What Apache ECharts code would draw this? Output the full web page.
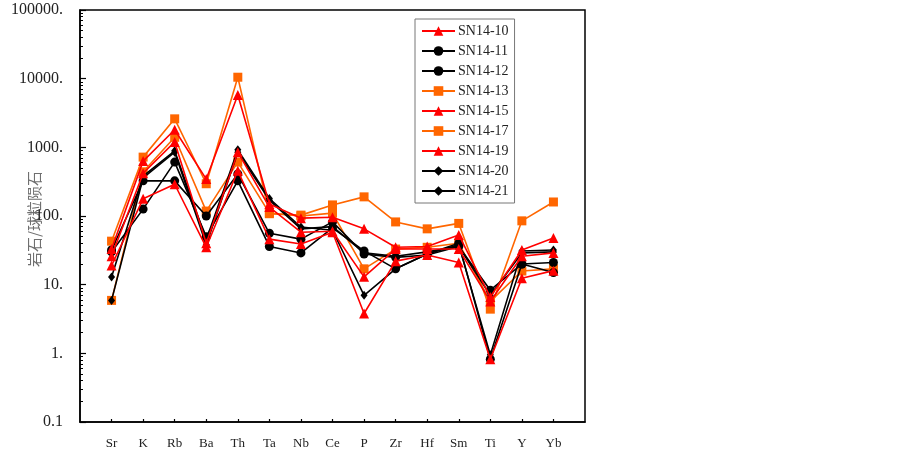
<!DOCTYPE html>
<html><head><meta charset="utf-8">
<script src="https://cdn.jsdelivr.net/npm/echarts@6/dist/echarts.min.js"></script>
<style>html,body{margin:0;padding:0;background:#fff}#c{width:902px;height:451px}</style>
</head><body><div id="c"></div>
<script>
const categories = ['Sr','K','Rb','Ba','Th','Ta','Nb','Ce','P','Zr','Hf','Sm','Ti','Y','Yb'];
const yTickLabels = [0.1, 1, 10, 100, 1000, 10000, 100000];
const yMinorTicks = [0.2,0.3,0.4,0.5,0.6,0.7,0.8,0.9,2,3,4,5,6,7,8,9,20,30,40,50,60,70,80,90,200,300,400,500,600,700,800,900,2000,3000,4000,5000,6000,7000,8000,9000,20000,30000,40000,50000,60000,70000,80000,90000];
const names = ['SN14-10','SN14-11','SN14-12','SN14-13','SN14-15','SN14-17','SN14-19','SN14-20','SN14-21'];
const SN14_10 = [33, 630, 1800, 345, 5800, 150, 93, 96, 65, 35, 36, 53, 6.6, 32, 48];
const SN14_11 = [32, 325, 325, 100, 410, 56, 46, 82, 28, 25, 27, 36, 8.3, 20, 21];
const SN14_12 = [30, 126, 610, 50, 325, 36, 29, 67, 31, 17, 28, 40, 0.82, 20, 15];
const SN14_13 = [43, 720, 2600, 295, 10500, 108, 103, 145, 190, 82, 65, 78, 4.4, 85, 160];
const SN14_15 = [19, 178, 290, 35, 455, 46, 39, 58, 3.8, 22, 27, 21, 0.82, 12.4, 16];
const SN14_17 = [5.9, 440, 1400, 118, 610, 110, 100, 110, 17, 33, 35, 40, 5.7, 15.8, 17];
const SN14_19 = [26, 420, 1200, 40, 850, 135, 58, 60, 13, 33, 33, 33, 5.7, 26, 29];
const SN14_20 = [12.9, 380, 890, 45, 920, 180, 69, 62, 7, 17, 28, 38, 0.95, 31, 32];
const SN14_21 = [5.9, 360, 850, 38, 850, 170, 65, 70, 29, 26, 30, 36, 7, 29, 30];
const values = [SN14_10, SN14_11, SN14_12, SN14_13, SN14_15, SN14_17, SN14_19, SN14_20, SN14_21];

const styleOf = {
  'SN14-10': {c:'#FF0000', s:'triangle', z:10},
  'SN14-15': {c:'#FF0000', s:'triangle', z:10},
  'SN14-19': {c:'#FF0000', s:'triangle', z:10},
  'SN14-13': {c:'#FF6600', s:'rect', z:8},
  'SN14-17': {c:'#FF6600', s:'rect', z:8},
  'SN14-11': {c:'#000000', s:'circle', z:9},
  'SN14-12': {c:'#000000', s:'circle', z:9},
  'SN14-20': {c:'#000000', s:'diamond', z:9},
  'SN14-21': {c:'#000000', s:'diamond', z:9}
};
const sizeOf = {triangle: 10, rect: 9, circle: 9, diamond: 8};

const xPos = categories.map((_, i) => i + 1);
const series = names.map((n, k) => {
  const st = styleOf[n];
  return {
    name: n, type: 'line',
    data: values[k].map((v, i) => [xPos[i], v]),
    symbol: st.s, symbolSize: st.s === 'diamond' ? [7, 9] : sizeOf[st.s],
    lineStyle: {color: st.c, width: 1.6},
    itemStyle: {color: st.c},
    z: st.z, animation: false
  };
});

const serif = '"Liberation Serif", "Times New Roman", serif';
const chart = echarts.init(document.getElementById('c'));
chart.setOption({
  animation: false,
  grid: {left: 80, top: 10, right: 317, bottom: 29, show: true, borderColor: '#000', borderWidth: 1.5, backgroundColor: 'transparent'},
  legend: {
    orient: 'vertical', left: 415, top: 19,
    itemWidth: 33, itemHeight: 12, itemGap: 6,
    padding: [5, 6, 5, 6],
    borderColor: '#777', borderWidth: 1, backgroundColor: '#fff',
    textStyle: {fontFamily: serif, fontSize: 14, color: '#222', padding: [0,0,0,-2]},
    data: names
  },
  xAxis: {
    type: 'value', min: 0, max: 16, interval: 1,
    axisLine: {show: true, lineStyle: {color: '#000', width: 1.5}},
    axisTick: {show: true, inside: true, length: 3, lineStyle: {color: '#000', width: 1.2}, customValues: xPos},
    axisLabel: {fontFamily: serif, fontSize: 13, color: '#222', margin: 15, customValues: xPos,
      formatter: v => categories[Math.round(v) - 1] || ''},
    splitLine: {show: false}
  },
  yAxis: [{
    type: 'log', logBase: 10, min: 0.1, max: 100000,
    axisLine: {show: true, lineStyle: {color: '#000', width: 1.5}},
    axisTick: {show: true, inside: true, length: 6, lineStyle: {color: '#000', width: 1.2}, customValues: yTickLabels},
    axisLabel: {fontFamily: serif, fontSize: 16, color: '#222', margin: 17, customValues: yTickLabels,
      formatter: v => v >= 1 ? String(Math.round(v)) + '.' : String(v)},
    splitLine: {show: false}
  }, {
    type: 'log', logBase: 10, min: 0.1, max: 100000, position: 'left',
    axisLine: {show: false},
    axisTick: {show: true, inside: true, length: 3, lineStyle: {color: '#000', width: 1}, customValues: yMinorTicks},
    axisLabel: {show: false},
    splitLine: {show: false}
  }],
  graphic: [{
    type: 'text', x: 34, y: 219, rotation: Math.PI / 2,
    style: {text: '岩石/球粒陨石', fontFamily: '"Noto Sans CJK SC", sans-serif', fontSize: 15, fill: '#6f6f6f', align: 'center', verticalAlign: 'middle'}
  }],
  series: series
});
</script></body></html>
